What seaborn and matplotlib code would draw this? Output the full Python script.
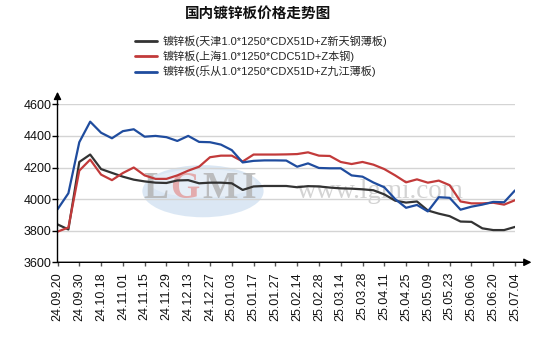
import matplotlib
matplotlib.use("Agg")
import matplotlib.pyplot as plt
from matplotlib.patches import Ellipse
import numpy as np
import pandas as pd
import seaborn as sns

# ---- data -------------------------------------------------------------
date_labels = ["24.09.20", "24.09.30", "24.10.18", "24.11.01", "24.11.15", "24.11.29",
               "24.12.13", "24.12.27", "25.01.03", "25.01.17", "25.01.27", "25.02.14",
               "25.02.28", "25.03.14", "25.03.28", "25.04.11", "25.04.25", "25.05.09",
               "25.05.23", "25.06.06", "25.06.20", "25.07.04"]

# sample positions, measured in label intervals (half-interval steps)
pos = [i * 0.5 for i in range(43)]

tianjin = [3840, 3808, 4235, 4282, 4190, 4166, 4142, 4123, 4112, 4104,
           4102, 4118, 4120, 4100, 4104, 4104, 4100, 4058, 4080, 4083,
           4083, 4083, 4075, 4082, 4080, 4073, 4068, 4066, 4062, 4056,
           4030, 3990, 3978, 3985, 3928, 3908, 3892, 3858, 3856, 3815,
           3804, 3804, 3824]

shanghai = [3794, 3820, 4180, 4250, 4155, 4120, 4165, 4200, 4150, 4128,
            4128, 4150, 4180, 4205, 4265, 4275, 4275, 4238, 4282, 4282,
            4282, 4283, 4285, 4296, 4275, 4273, 4235, 4222, 4235, 4218,
            4190, 4150, 4106, 4125, 4104, 4117, 4088, 3985, 3973, 3973,
            3977, 3965, 3993]

lecong = [3935, 4037, 4360, 4490, 4420, 4385, 4430, 4442, 4395, 4400,
          4392, 4368, 4400, 4362, 4360, 4345, 4310, 4232, 4242, 4245,
          4245, 4244, 4205, 4226, 4197, 4195, 4195, 4150, 4142, 4105,
          4075, 4000, 3945, 3963, 3922, 4012, 4008, 3933, 3952, 3965,
          3982, 3980, 4055]

series_names = ["镀锌板(天津1.0*1250*CDX51D+Z新天钢薄板)",
                "镀锌板(上海1.0*1250*CDC51D+Z本钢)",
                "镀锌板(乐从1.0*1250*CDX51D+Z九江薄板)"]
series_colors = ["#333333", "#c23a3a", "#1f4c9e"]

df = pd.concat([
    pd.DataFrame({"pos": pos, "price": vals, "series": name})
    for name, vals in zip(series_names, [tianjin, shanghai, lecong])
])

# ---- style ------------------------------------------------------------
sns.set_theme(style="white")
plt.rcParams["font.family"] = ["Liberation Sans", "Noto Sans CJK SC", "DejaVu Sans"]
plt.rcParams["axes.unicode_minus"] = False

W, H = 541, 339
fig = plt.figure(figsize=(W / 100, H / 100), dpi=100)
ax_l, ax_r, ax_t, ax_b = 57.5, 515.0, 104.3, 262.3
ax = fig.add_axes([ax_l / W, 1 - ax_b / H, (ax_r - ax_l) / W, (ax_b - ax_t) / H])

# watermark logo and site name
ax.add_patch(Ellipse((0.318, 0.45), 0.265, 0.33, transform=ax.transAxes,
                     facecolor="#cfe0f1", edgecolor="none", alpha=0.75, zorder=0))
ax.add_patch(Ellipse((0.318, 0.50), 0.23, 0.18, transform=ax.transAxes,
                     facecolor="#e9f1f9", edgecolor="none", alpha=0.8, zorder=0))
for ch, xp, col in [("L", 156, "#b4b4b4"), ("G", 185, "#e3a0a0"),
                    ("M", 220, "#b4b4b4"), ("I", 249.5, "#b4b4b4")]:
    ax.text((xp - ax_l) / (ax_r - ax_l), (ax_b - 189) / (ax_b - ax_t), ch,
            transform=ax.transAxes, ha="center", va="center", fontsize=27,
            fontweight="bold", family="Liberation Serif", color=col, alpha=0.85, zorder=0)
ax.text((380 - ax_l) / (ax_r - ax_l), (ax_b - 192) / (ax_b - ax_t), "www.lgmi.com",
        transform=ax.transAxes, ha="center", va="center", fontsize=19.5,
        family="Liberation Serif", color="#c8c8c8", alpha=0.8, zorder=0)

sns.lineplot(data=df, x="pos", y="price", hue="series", palette=series_colors,
             linewidth=1.6, ax=ax, legend=False, zorder=3)

ax.set_xlim(0, 21)
ax.set_ylim(3600, 4600)
ax.set_yticks(range(3600, 4601, 200))
ax.set_xticks(range(len(date_labels)))
ax.set_xticklabels(date_labels, rotation=90, va="top", ha="center")
ax.set_xlabel("")
ax.set_ylabel("")
ax.yaxis.grid(True, color="#d4d4d4", linewidth=1)
ax.xaxis.grid(False)
ax.set_axisbelow(True)
for s in ax.spines.values():
    s.set_visible(False)

ax.tick_params(axis="y", which="major", left=True, length=4, width=1, pad=0.5,
               labelsize=9, color="black", labelcolor="#111111")
ax.tick_params(axis="x", which="major", bottom=True, length=3, width=1, pad=4,
               labelsize=9, color="#555555", labelcolor="#111111")

# axis lines with arrow heads
arrow = dict(arrowstyle="-|>", color="black", lw=1, shrinkA=0, shrinkB=0,
             mutation_scale=11)
ax.annotate("", xy=(0, 1 + 12.5 / (ax_b - ax_t)), xytext=(0, 0),
            xycoords="axes fraction", textcoords="axes fraction",
            arrowprops=arrow, annotation_clip=False)
ax.annotate("", xy=(1 + 16.5 / (ax_r - ax_l), 0), xytext=(0, 0),
            xycoords="axes fraction", textcoords="axes fraction",
            arrowprops=arrow, annotation_clip=False)

# title
fig.text(258 / W, 1 - 12.7 / H, "国内镀锌板价格走势图", ha="center", va="center",
         fontsize=10.5, fontweight="bold",
         family=["Noto Sans CJK SC", "DejaVu Sans"], color="#111111")

# legend
handles = [plt.Line2D([], [], color=c, lw=2) for c in series_colors]
fig.legend(handles, series_names, loc="upper left",
           bbox_to_anchor=(135 / W, 1 - 35 / H), bbox_transform=fig.transFigure,
           frameon=False, fontsize=8, handlelength=2.0, handletextpad=0.45,
           labelspacing=0.35, borderpad=0, borderaxespad=0)

fig.savefig("out.png", dpi=100)
